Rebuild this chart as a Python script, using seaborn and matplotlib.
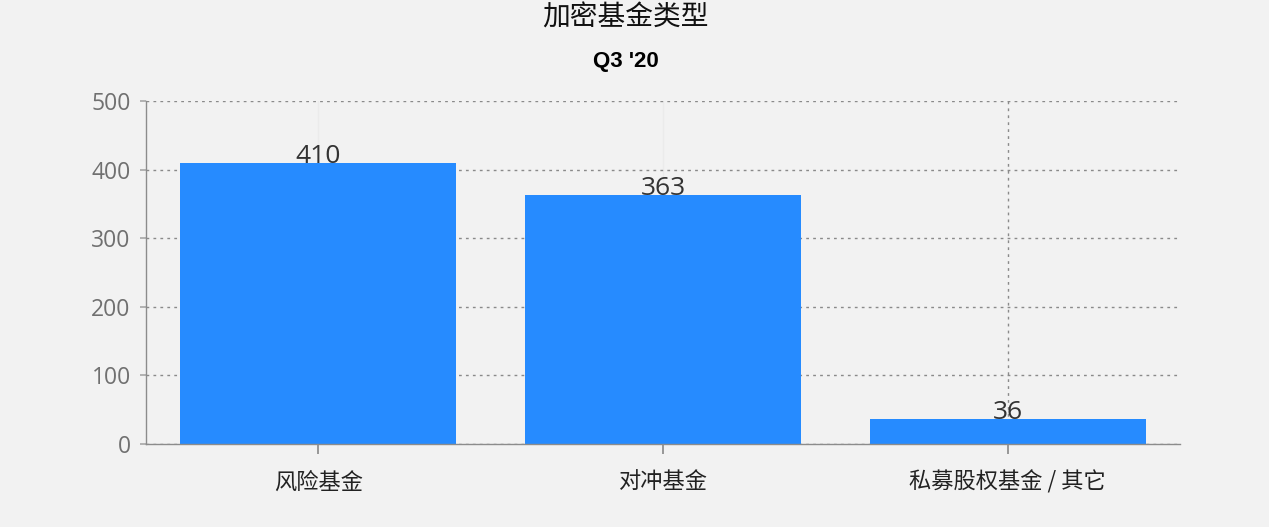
import matplotlib
matplotlib.use("Agg")
import matplotlib.pyplot as plt
import seaborn as sns
import pandas as pd

categories = ["风险基金", "对冲基金", "私募股权基金 / 其它"]
values = [410, 363, 36]
title = "加密基金类型"
subtitle = "Q3 '20"
yticks = [0, 100, 200, 300, 400, 500]

sns.set_theme(style="white")
plt.rcParams['font.family'] = ['Noto Sans CJK SC', 'DejaVu Sans']

bg = "#f2f2f2"
fig = plt.figure(figsize=(12.69, 5.27), dpi=100, facecolor=bg)
ax = fig.add_axes([146/1269, 83/527, 1034/1269, 343/527])
ax.set_facecolor(bg)

df = pd.DataFrame({"cat": categories, "val": values})
sns.barplot(data=df, x="cat", y="val", color="#268bff", saturation=1,
            width=0.8, ax=ax, zorder=3, linewidth=0)

ax.set_xlim(-0.5, len(categories) - 0.5)
ax.set_ylim(0, 500)
ax.set_yticks(yticks)
ax.set_xlabel("")
ax.set_ylabel("")

ax.grid(axis="y", linestyle=(0, (2, 3)), color="#8a8a8a", linewidth=1, zorder=0)
for i in range(len(categories) - 1):
    ax.axvline(i, linestyle="-", color="#ebebeb", linewidth=1, zorder=0)
ax.axvline(len(categories) - 1, linestyle=(0, (2, 3)), color="#8a8a8a", linewidth=1, zorder=1)

for s in ["top", "right"]:
    ax.spines[s].set_visible(False)
for s in ["left", "bottom"]:
    ax.spines[s].set_color("#8c8c8c")
    ax.spines[s].set_linewidth(1)
    ax.spines[s].set_zorder(4)

ax.tick_params(axis="y", length=4, color="#aaaaaa", labelsize=16.5, labelcolor="#707070", pad=7, left=True)
ax.tick_params(axis="x", length=7, color="#8c8c8c", labelsize=16, labelcolor="#222222", pad=12, bottom=True)
for lab in ax.get_yticklabels():
    lab.set_fontfamily(["Open Sans", "DejaVu Sans"])

for i, v in enumerate(values):
    ax.text(i, v, str(v), ha="center", va="baseline", fontsize=19,
            color="#333333", family=["Open Sans", "DejaVu Sans"], zorder=5)

fig.text(0.493, 1 - 18/527, title, ha="center", va="center", fontsize=20, color="#111111")
fig.text(0.493, 1 - 62/527, subtitle, ha="center", va="center", fontsize=16,
         fontweight="bold", family=["Liberation Sans", "DejaVu Sans"], color="#000000")

fig.savefig("out.png", dpi=100, facecolor=bg)
